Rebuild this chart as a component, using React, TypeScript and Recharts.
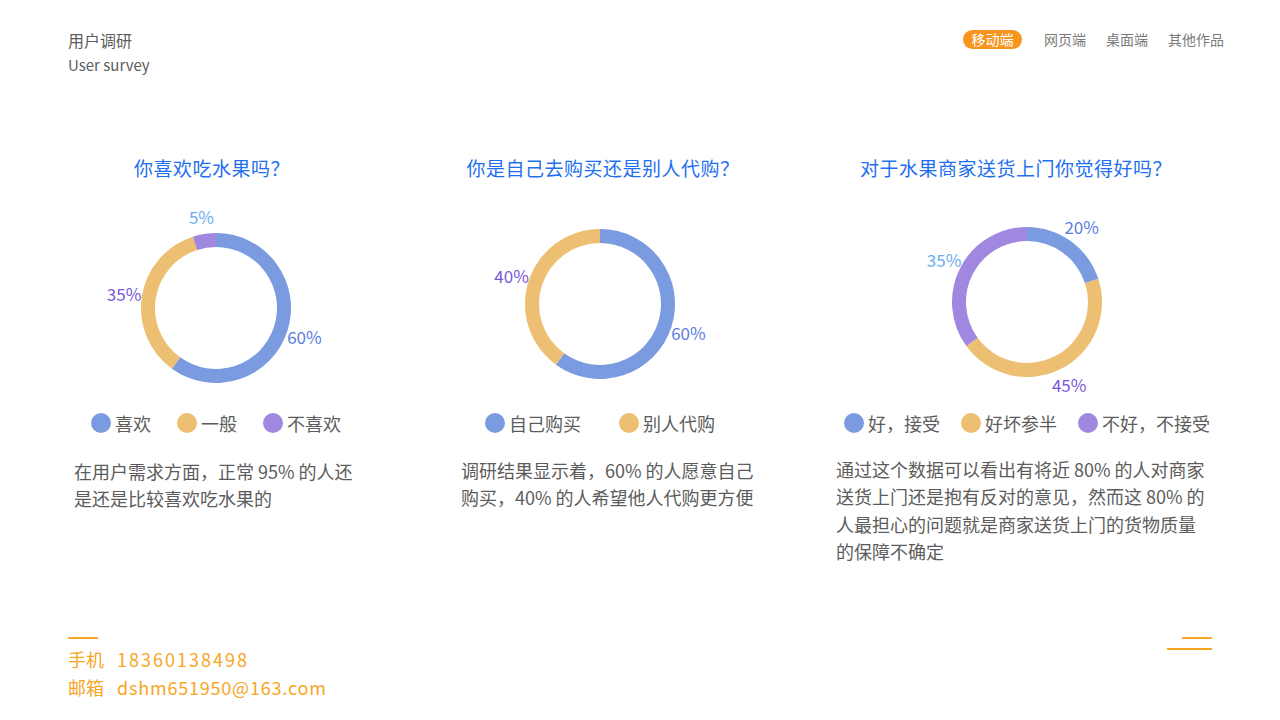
import React from "react";
import { PieChart, Pie, Cell, Legend } from "recharts";

// ---------- data ----------
const q1Categories = ["喜欢", "一般", "不喜欢"];
const q1Values = [60, 35, 5];
const q2Categories = ["自己购买", "别人代购"];
const q2Values = [60, 40];
const q3Categories = ["好，接受", "好坏参半", "不好，不接受"];
const q3Values = [20, 45, 35];

const titles = ["你喜欢吃水果吗？", "你是自己去购买还是别人代购？", "对于水果商家送货上门你觉得好吗？"];
const notes = [
  ["在用户需求方面，正常 95% 的人还", "是还是比较喜欢吃水果的"],
  ["调研结果显示着，60% 的人愿意自己", "购买，40% 的人希望他人代购更方便"],
  [
    "通过这个数据可以看出有将近 80% 的人对商家",
    "送货上门还是抱有反对的意见，然而这 80% 的",
    "人最担心的问题就是商家送货上门的货物质量",
    "的保障不确定",
  ],
];
const navItems = ["移动端", "网页端", "桌面端", "其他作品"];
const phone = "18360138498";
const email = "dshm651950@163.com";

// ---------- styles ----------
const SLICE_COLORS = ["#7b9be1", "#edbf72", "#a087df"];
const LABEL_COLORS = ["#5b7de0", "#7b58d6", "#6aaef0"];
const FONT = '"Noto Sans CJK SC", "Noto Sans", sans-serif';
const TEXT_GRAY = "#5c5c5c";
const ORANGE = "#f7a626";

const panels = [
  { cx: 216, cy: 308, titleX: 212, noteX: 74, noteTop: 458, legendGap: 26, lh: 27 },
  { cx: 600, cy: 304, titleX: 603, noteX: 461, noteTop: 457, legendGap: 38, lh: 27 },
  { cx: 1027, cy: 302, titleX: 1016, noteX: 836, noteTop: 456, legendGap: 21, lh: 27.4 },
];

const CHART_W = 400;
const CHART_H = 330;
const PIE_CY = 120;
const LEGEND_Y = 423;

const RADIAN = Math.PI / 180;

const renderLabel = (props: any) => {
  const { cx, cy, midAngle, outerRadius, value, index } = props;
  const r = outerRadius + 18;
  const x = cx + r * Math.cos(-midAngle * RADIAN);
  const y = cy + r * Math.sin(-midAngle * RADIAN);
  return (
    <text
      x={x}
      y={y}
      fill={LABEL_COLORS[index % LABEL_COLORS.length]}
      textAnchor="middle"
      dominantBaseline="central"
      fontSize={17}
      fontFamily={FONT}
    >
      {value}%
    </text>
  );
};

function makeLegend(gap: number, categories: string[]) {
  return (props: any) => {
    const payload = [...(props.payload || [])].sort(
      (a: any, b: any) => categories.indexOf(a.value) - categories.indexOf(b.value)
    );
    return (
      <div style={{ display: "flex", justifyContent: "center", alignItems: "center", gap }}>
        {payload.map((p: any) => {
          const ci = categories.indexOf(p.value);
          return (
            <div key={p.value} style={{ display: "flex", alignItems: "center" }}>
              <span
                style={{
                  display: "inline-block",
                  width: 20,
                  height: 20,
                  borderRadius: 10,
                  background: SLICE_COLORS[ci % SLICE_COLORS.length],
                  marginRight: 4,
                }}
              />
              <span style={{ fontSize: 18, color: TEXT_GRAY, fontFamily: FONT, lineHeight: "24px" }}>
                {p.value}
              </span>
            </div>
          );
        })}
      </div>
    );
  };
}

function Donut({ categories, values, idx }: { categories: string[]; values: number[]; idx: number }) {
  const p = panels[idx];
  const data = categories.map((name, i) => ({ name, value: values[i] }));
  const left = p.cx - CHART_W / 2;
  const top = p.cy - PIE_CY;
  return (
    <div style={{ position: "absolute", left, top, width: CHART_W, height: CHART_H }}>
      <PieChart width={CHART_W} height={CHART_H} margin={{ top: 0, right: 0, bottom: 0, left: 0 }}>
        <Pie
          data={data}
          dataKey="value"
          nameKey="name"
          cx={CHART_W / 2}
          cy={PIE_CY}
          innerRadius={61}
          outerRadius={75}
          startAngle={90}
          endAngle={-270}
          stroke="none"
          label={renderLabel}
          labelLine={false}
          isAnimationActive={false}
        >
          {data.map((_, i) => (
            <Cell key={i} fill={SLICE_COLORS[i % SLICE_COLORS.length]} />
          ))}
        </Pie>
        <Legend
          verticalAlign="bottom"
          itemSorter={(item: any) => categories.indexOf(item.value)}
          content={makeLegend(p.legendGap, categories)}
          wrapperStyle={{ top: LEGEND_Y - top - 12, bottom: "auto", left: 0, width: CHART_W }}
        />
      </PieChart>
    </div>
  );
}

export default function App() {
  const series = [
    { c: q1Categories, v: q1Values },
    { c: q2Categories, v: q2Values },
    { c: q3Categories, v: q3Values },
  ];
  return (
    <div
      style={{
        position: "absolute",
        left: 0,
        top: 0,
        width: 1280,
        height: 720,
        background: "#ffffff",
        overflow: "hidden",
        fontFamily: FONT,
      }}
    >
      {/* header */}
      <div style={{ position: "absolute", left: 68, top: 29, fontSize: 16, lineHeight: "22px", color: TEXT_GRAY }}>
        用户调研
      </div>
      <div style={{ position: "absolute", left: 68, top: 54, fontSize: 15, lineHeight: "22px", color: TEXT_GRAY }}>
        User survey
      </div>

      {/* nav */}
      <div
        style={{
          position: "absolute",
          left: 963,
          top: 30,
          width: 59,
          height: 19,
          borderRadius: 10,
          background: "#f7941d",
          color: "#fff",
          fontSize: 14,
          lineHeight: "19px",
          textAlign: "center",
        }}
      >
        {navItems[0]}
      </div>
      {navItems.slice(1).map((t, i) => (
        <div
          key={t}
          style={{
            position: "absolute",
            left: [1044, 1106, 1168][i],
            top: 29,
            fontSize: 14,
            lineHeight: "20px",
            color: "#7a7a7a",
          }}
        >
          {t}
        </div>
      ))}

      {/* titles */}
      {titles.map((t, i) => (
        <div
          key={t}
          style={{
            position: "absolute",
            left: panels[i].titleX - 200,
            width: 400,
            top: 154,
            textAlign: "center",
            fontSize: 19,
            lineHeight: "28px",
            color: "#1f6ff0",
            letterSpacing: 0.5,
          }}
        >
          {t}
        </div>
      ))}

      {/* donuts */}
      {series.map((s, i) => (
        <Donut key={i} categories={s.c} values={s.v} idx={i} />
      ))}

      {/* notes */}
      {notes.map((lines, i) => (
        <div
          key={i}
          style={{
            position: "absolute",
            left: panels[i].noteX,
            top: panels[i].noteTop,
            fontSize: 18,
            lineHeight: `${panels[i].lh}px`,
            color: TEXT_GRAY,
            whiteSpace: "nowrap",
          }}
        >
          {lines.map((l, j) => (
            <div key={j}>{l}</div>
          ))}
        </div>
      ))}

      {/* footer */}
      <div style={{ position: "absolute", left: 68, top: 637, width: 30, height: 2, background: ORANGE }} />
      <div style={{ position: "absolute", left: 68, top: 646, fontSize: 18, lineHeight: "26px", color: ORANGE }}>
        手机<span style={{ marginLeft: 13, letterSpacing: 2 }}>{phone}</span>
      </div>
      <div style={{ position: "absolute", left: 68, top: 674, fontSize: 18, lineHeight: "26px", color: ORANGE }}>
        邮箱<span style={{ marginLeft: 13, letterSpacing: 0.8 }}>{email}</span>
      </div>
      <div style={{ position: "absolute", left: 1182, top: 637, width: 30, height: 2, background: ORANGE }} />
      <div style={{ position: "absolute", left: 1167, top: 648, width: 45, height: 2, background: ORANGE }} />
    </div>
  );
}
